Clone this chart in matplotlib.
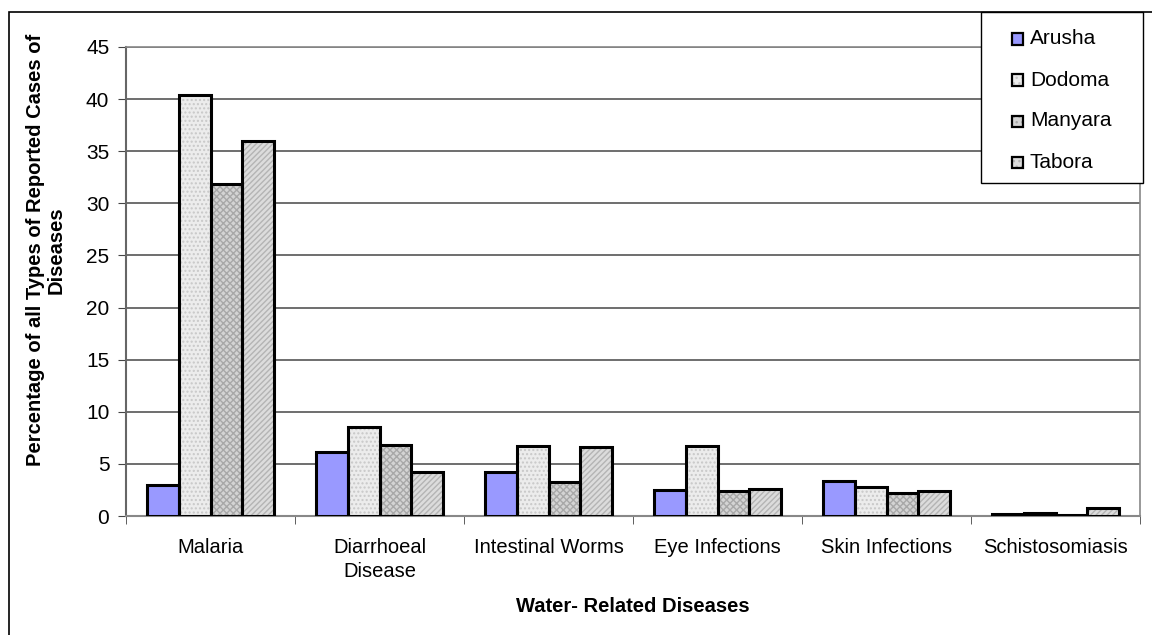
import matplotlib
matplotlib.use("Agg")
import matplotlib.pyplot as plt
import numpy as np
from matplotlib.patches import Rectangle

plt.rcParams['font.family'] = ['Liberation Sans', 'DejaVu Sans']

categories = ["Malaria", "Diarrhoeal\nDisease", "Intestinal Worms",
              "Eye Infections", "Skin Infections", "Schistosomiasis"]
regions = ["Arusha", "Dodoma", "Manyara", "Tabora"]
arusha = [3.0, 6.1, 4.2, 2.5, 3.4, 0.15]
dodoma = [40.4, 8.5, 6.7, 6.75, 2.8, 0.25]
manyara = [31.9, 6.8, 3.3, 2.4, 2.2, 0.05]
tabora = [36.0, 4.2, 6.6, 2.6, 2.4, 0.8]
series = [arusha, dodoma, manyara, tabora]
yticks = [0, 5, 10, 15, 20, 25, 30, 35, 40, 45]

# fill colour, hatch pattern, hatch colour for each region
styles = [
    ("#9999ff", None, None),
    ("#ececec", "....", "#c8c8c8"),
    ("#d4d4d4", "xxxxx", "#a8a8a8"),
    ("#dcdcdc", "//////", "#b4b4b4"),
]

W, H = 1152, 635
fig = plt.figure(figsize=(W / 100, H / 100), dpi=100)

# chart frame
frame = Rectangle((9 / W, -0.1), 1.2, 1 - 12 / H + 0.1, transform=fig.transFigure,
                  fill=False, edgecolor="black", linewidth=1.2)
fig.add_artist(frame)

left, right, top, bottom = 126, 1140, 47, 516
ax = fig.add_axes([left / W, 1 - bottom / H, (right - left) / W, (bottom - top) / H])

x = np.arange(len(categories))
bw = 0.1875
for i, (vals, (fc, hatch, hc)) in enumerate(zip(series, styles)):
    pos = x - 1.5 * bw + i * bw
    if hatch:
        ax.bar(pos, vals, width=bw, color=fc, hatch=hatch, edgecolor=hc,
               linewidth=0, zorder=3)
        ax.bar(pos, vals, width=bw, facecolor="none", edgecolor="black",
               linewidth=2.2, zorder=4)
    else:
        ax.bar(pos, vals, width=bw, color=fc, edgecolor="black",
               linewidth=2.2, zorder=4)

ax.set_xlim(-0.5, len(categories) - 0.5)
ax.set_ylim(0, 45)
ax.set_yticks(yticks)
ax.set_xticks(x)
ax.set_xticklabels(categories, fontsize=14.5, linespacing=1.35)
ax.set_xticks(np.arange(len(categories) + 1) - 0.5, minor=True)
ax.tick_params(axis="x", which="major", length=0, pad=16)
ax.tick_params(axis="x", which="minor", length=6, direction="out", color="#444444")
ax.tick_params(axis="y", labelsize=15, length=6, direction="out", color="#444444", pad=6)

ax.grid(axis="y", color="#555555", linewidth=1.2, zorder=0)
for s in ["top", "right"]:
    ax.spines[s].set_color("#888888")
    ax.spines[s].set_linewidth(1.2)
ax.spines["left"].set_color("#666666")
ax.spines["left"].set_linewidth(1.5)
ax.spines["bottom"].set_color("#888888")
ax.spines["bottom"].set_linewidth(1.5)

fig.text(46 / W, 1 - 250 / H,
         "Percentage of all Types of Reported Cases of\nDiseases",
         rotation=90, ha="center", va="center", fontsize=14.5,
         fontweight="bold", linespacing=1.15)
fig.text((left + right) / 2 / W, 1 - 606 / H, "Water- Related Diseases",
         ha="center", va="center", fontsize=14.5, fontweight="bold")

# legend
lx0, ly0, lx1, ly1 = 981, 12, 1143, 183
fig.add_artist(Rectangle((lx0 / W, 1 - ly1 / H), (lx1 - lx0) / W, (ly1 - ly0) / H,
                         transform=fig.transFigure, facecolor="white",
                         edgecolor="black", linewidth=1.0, zorder=10))
for i, (name, (fc, hatch, hc)) in enumerate(zip(regions, styles)):
    cy = 39 + i * 41
    sq = 11
    cx = 1017
    kw = dict(transform=fig.transFigure, zorder=11)
    if hatch:
        fig.add_artist(Rectangle(((cx - sq / 2) / W, 1 - (cy + sq / 2) / H), sq / W, sq / H,
                                 facecolor=fc, hatch="...", edgecolor=hc, linewidth=0, **kw))
    else:
        fig.add_artist(Rectangle(((cx - sq / 2) / W, 1 - (cy + sq / 2) / H), sq / W, sq / H,
                                 facecolor=fc, linewidth=0, **kw))
    fig.add_artist(Rectangle(((cx - sq / 2) / W, 1 - (cy + sq / 2) / H), sq / W, sq / H,
                             facecolor="none", edgecolor="black", linewidth=1.6,
                             transform=fig.transFigure, zorder=12))
    fig.text(1030 / W, 1 - cy / H, name, ha="left", va="center",
             fontsize=15, zorder=12)

fig.savefig("out.png", dpi=100)
